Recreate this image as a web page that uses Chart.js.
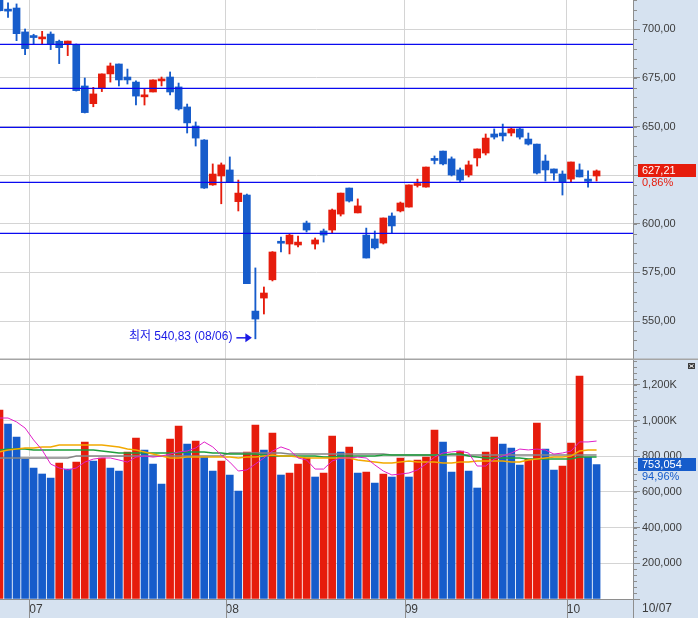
<!DOCTYPE html>
<html lang="ko">
<head>
    <meta charset="UTF-8">
    <title>Price / Volume</title>
    <script src="https://cdn.jsdelivr.net/npm/chart.js"></script>
    <style>
        body { margin: 0; background: #ffffff; }
        .panel { position: absolute; left: 0; }
        #priceChart { top: 0; }
        #volumeChart { top: 360px; }
    </style>
</head>
<body>
    <canvas id="priceChart" class="panel" width="698" height="360"></canvas>
    <canvas id="volumeChart" class="panel" width="698" height="258"></canvas>

    <script>
        // ---- data (daily sessions, oldest first) ----
        const months = ['07', '08', '09', '10'];
        const monthStart = [4, 27, 48, 67];     // index of the first session of each month
        const lastDate = '10/07';
        const lowDate = '08/06';

        const open = [717.0, 709.8, 711.0, 698.7, 696.0, 695.1, 697.6, 693.9, 692.6, 692.3,
            670.9, 661.8, 669.7, 677.1, 682.2, 675.5, 672.9, 665.3, 667.8, 673.5,
            675.5, 670.4, 660.1, 650.3, 643.1, 620.0, 624.6, 627.7, 611.4, 614.8,
            555.1, 561.8, 571.2, 590.3, 589.6, 589.1, 600.4, 589.6, 596.3, 596.8,
            605.0, 618.4, 605.6, 594.2, 592.2, 590.1, 604.0, 606.6, 608.6, 619.7,
            618.9, 632.9, 637.4, 633.4, 627.7, 625.1, 633.9, 636.4, 646.2, 646.7,
            646.7, 648.8, 643.6, 641.0, 632.3, 628.2, 625.6, 623.0, 627.7, 623.0,
            624.6];
        const high = [718.5, 713.7, 713.1, 700.2, 697.5, 699.0, 698.7, 694.5, 694.0, 692.5,
            675.0, 670.2, 677.1, 682.7, 682.2, 679.6, 673.5, 669.3, 674.0, 675.5,
            678.1, 672.4, 661.6, 652.4, 643.3, 630.8, 631.3, 634.4, 622.5, 615.3,
            577.3, 567.5, 585.7, 593.2, 594.8, 593.7, 601.4, 592.7, 597.3, 607.6,
            615.8, 618.4, 612.8, 597.8, 596.3, 603.0, 605.6, 611.2, 620.0, 623.0,
            629.2, 634.9, 637.4, 634.4, 628.7, 632.3, 638.5, 646.2, 648.8, 651.3,
            649.3, 649.3, 646.7, 641.0, 635.4, 628.2, 627.2, 631.8, 630.8, 627.2,
            627.7];
        const low = [709.4, 706.2, 694.2, 687.0, 692.6, 692.6, 689.6, 682.4, 686.5, 668.3,
            657.0, 660.2, 668.0, 672.9, 670.9, 671.9, 661.1, 661.1, 667.8, 670.9,
            666.3, 658.5, 646.7, 640.0, 618.2, 619.8, 610.3, 621.5, 606.6, 569.2,
            540.83, 553.6, 570.6, 585.5, 584.5, 588.1, 595.8, 587.0, 590.6, 595.3,
            604.0, 611.2, 605.6, 582.4, 587.0, 589.6, 595.3, 606.1, 608.6, 618.9,
            618.9, 630.8, 630.3, 624.6, 621.5, 624.1, 629.7, 635.4, 643.6, 642.6,
            645.2, 643.6, 640.5, 625.6, 622.0, 622.5, 614.8, 621.5, 624.1, 618.9,
            622.0];
        const close = [709.6, 709.4, 697.8, 690.1, 695.8, 695.9, 692.6, 690.6, 694.0, 668.5,
            657.2, 666.8, 677.1, 681.2, 674.0, 674.0, 665.7, 665.5, 674.0, 674.5,
            667.8, 659.1, 651.9, 644.1, 618.4, 625.6, 630.3, 621.5, 615.8, 569.2,
            551.0, 564.4, 585.5, 590.0, 594.2, 590.6, 596.8, 591.7, 594.2, 607.1,
            615.8, 611.7, 609.2, 582.4, 587.6, 603.0, 598.9, 610.7, 620.0, 620.0,
            629.2, 632.6, 630.8, 625.1, 622.5, 630.3, 638.5, 644.1, 644.6, 645.2,
            648.8, 644.6, 641.0, 626.1, 627.7, 626.1, 621.5, 631.8, 624.1, 621.86,
            627.21];
        const volume = [1058800, 980400, 907500, 784300, 733900, 700300, 677800, 761900, 728300, 767500,
            879500, 773100, 789900, 733900, 717100, 823500, 901900, 834700, 756300, 644200,
            896300, 969100, 868300, 885100, 795500, 717100, 773100, 694600, 605000, 823500,
            974700, 834700, 929900, 694600, 705900, 756300, 789900, 683400, 705900, 913100,
            823500, 851500, 705900, 711500, 649800, 700300, 683400, 789900, 683400, 778700,
            795500, 946700, 879500, 711500, 829100, 717100, 621800, 823500, 907500, 868300,
            845900, 750700, 784300, 986000, 840300, 722700, 745100, 873900, 1249200, 793024,
            753054];
        // volume moving averages as drawn (5 / 20 / 60 / 120 sessions)
        const volMa5 = [1014000, 1014000, 992000, 958000, 891000, 835000, 756000, 734000, 723000, 734000,
            767000, 784000, 790000, 790000, 779000, 767000, 795000, 801000, 795000, 801000,
            812000, 824000, 829000, 846000, 880000, 852000, 807000, 767000, 717000, 723000,
            756000, 790000, 829000, 852000, 835000, 790000, 779000, 728000, 728000, 773000,
            790000, 790000, 795000, 790000, 751000, 717000, 695000, 700000, 706000, 723000,
            756000, 795000, 818000, 824000, 829000, 818000, 745000, 745000, 784000, 801000,
            818000, 840000, 835000, 840000, 835000, 812000, 818000, 829000, 880000, 880000,
            885000];
        const volMa20 = [824000, 835000, 840000, 846000, 846000, 852000, 852000, 863000, 863000, 863000,
            863000, 863000, 863000, 857000, 852000, 840000, 835000, 824000, 812000, 801000,
            790000, 790000, 795000, 795000, 795000, 795000, 795000, 795000, 790000, 795000,
            795000, 801000, 807000, 801000, 801000, 795000, 790000, 790000, 790000, 790000,
            790000, 790000, 779000, 773000, 767000, 762000, 762000, 767000, 773000, 767000,
            767000, 767000, 762000, 762000, 767000, 767000, 773000, 773000, 773000, 773000,
            767000, 767000, 779000, 784000, 790000, 795000, 795000, 801000, 829000, 835000,
            835000];
        const volMa60 = [835000, 840000, 840000, 840000, 835000, 835000, 835000, 835000, 835000, 835000,
            835000, 835000, 829000, 824000, 818000, 818000, 818000, 818000, 818000, 818000,
            818000, 818000, 824000, 824000, 824000, 818000, 818000, 812000, 812000, 812000,
            812000, 807000, 801000, 801000, 801000, 801000, 801000, 801000, 795000, 795000,
            801000, 801000, 801000, 801000, 801000, 807000, 807000, 807000, 807000, 807000,
            807000, 807000, 807000, 812000, 812000, 801000, 795000, 790000, 790000, 790000,
            790000, 790000, 784000, 784000, 784000, 784000, 784000, 784000, 795000, 795000,
            795000];
        const volMa120 = [790000, 790000, 790000, 790000, 790000, 790000, 790000, 790000, 790000, 801000,
            801000, 801000, 801000, 801000, 801000, 801000, 801000, 801000, 801000, 801000,
            801000, 801000, 801000, 801000, 801000, 801000, 801000, 818000, 818000, 818000,
            818000, 818000, 818000, 818000, 812000, 812000, 812000, 812000, 812000, 812000,
            812000, 812000, 812000, 812000, 812000, 812000, 807000, 807000, 807000, 807000,
            807000, 807000, 807000, 807000, 807000, 807000, 807000, 807000, 807000, 807000,
            807000, 807000, 807000, 807000, 807000, 807000, 807000, 807000, 807000, 807000,
            807000];
        const levels = [692.3, 669.7, 649.6, 621.3, 595.1];   // horizontal trend lines
        const priceTicks = [550, 575, 600, 625, 650, 675, 700];
        const volumeTicks = [0, 200000, 400000, 600000, 800000, 1000000, 1200000];

        // ---- look ----
        const RED = '#E61C0C', BLUE = '#165CCB', LEVEL = '#0A0AF0', ANNO = '#1A1AE6';
        const AXIS_BG = '#D6E2F0', GRID = '#D4D4D4', AXIS_LINE = '#8E8E8E', LABEL = '#3C3C3C';
        const X_MIN = 0.06, X_MAX = 74.27;
        const AXIS_W = 65;

        Chart.defaults.font.family = '"Liberation Sans", Arial, sans-serif';
        Chart.defaults.font.size = 11;
        Chart.defaults.color = LABEL;

        const comma = (v, d) => v.toFixed(d).replace('.', ',');
        const fmtVol = v => v >= 1000000 ? (v / 1000).toLocaleString('en-US') + 'K' : v.toLocaleString('en-US');

        const idx = close.map((_, i) => i);
        const candleColor = idx.map(i => close[i] >= open[i] ? RED : BLUE);
        const volColor = idx.map(i => (i === 0 || volume[i] > volume[i - 1]) ? RED : BLUE);

        function xAxis(showLabels) {
            return {
                type: 'linear', min: X_MIN, max: X_MAX, offset: false,
                afterBuildTicks: s => { s.ticks = monthStart.map(v => ({ value: v - 0.5 })); },
                afterFit: s => { s.height = showLabels ? 19 : 0; s.paddingLeft = 0; s.paddingRight = 0; },
                grid: { color: GRID, offset: false, drawTicks: false },
                border: { display: showLabels, color: AXIS_LINE },
                ticks: {
                    display: showLabels, align: 'start', padding: 3, maxRotation: 0, autoSkip: false,
                    font: { size: 12 }, callback: (v, i) => months[i]
                }
            };
        }

        function yAxis(min, max, ticks, fmt, hidden) {
            return {
                position: 'right', min: min, max: max,
                afterBuildTicks: s => { s.ticks = ticks.map(v => ({ value: v })); },
                afterFit: s => { s.width = AXIS_W; s.paddingTop = 0; s.paddingBottom = 0; },
                grid: { color: GRID, tickColor: AXIS_LINE, tickLength: 7 },
                border: { color: AXIS_LINE },
                ticks: { padding: 2, callback: v => hidden.includes(v) ? '' : fmt(v) }
            };
        }

        function minorTicks(ctx, a, scale, step) {
            ctx.strokeStyle = AXIS_LINE;
            ctx.lineWidth = 1;
            ctx.beginPath();
            for (let v = Math.ceil(scale.min / step) * step; v <= scale.max; v += step) {
                const py = Math.round(scale.getPixelForValue(v)) + 0.5;
                ctx.moveTo(a.right, py);
                ctx.lineTo(a.right + 4, py);
            }
            ctx.stroke();
        }

        function valueTag(ctx, a, py, bg, text, sub, subColor) {
            const top = Math.round(py) - 7;
            ctx.fillStyle = bg;
            ctx.fillRect(a.right + 5, top, 58, 13);
            ctx.font = '11px "Liberation Sans", Arial, sans-serif';
            ctx.textAlign = 'left';
            ctx.textBaseline = 'middle';
            ctx.fillStyle = '#ffffff';
            ctx.fillText(text, a.right + 9, top + 7);
            ctx.fillStyle = subColor;
            ctx.fillText(sub, a.right + 9, top + 19);
        }

        const pricePanel = {
            id: 'pricePanel',
            beforeDraw(chart) {
                const { ctx, chartArea: a, width, height } = chart;
                ctx.fillStyle = AXIS_BG;
                ctx.fillRect(a.right, 0, width - a.right, height);
            },
            afterDraw(chart) {
                const { ctx, chartArea: a, width, height, scales: { x, y } } = chart;
                ctx.save();
                minorTicks(ctx, a, y, 5);

                // lowest low marker
                const li = low.indexOf(Math.min(...low));
                const ax = x.getPixelForValue(li);
                const ay = y.getPixelForValue(low[li]) - 1;
                ctx.strokeStyle = ANNO;
                ctx.fillStyle = ANNO;
                ctx.lineWidth = 1.5;
                ctx.beginPath();
                ctx.moveTo(ax - 19, ay);
                ctx.lineTo(ax - 9, ay);
                ctx.stroke();
                ctx.beginPath();
                ctx.moveTo(ax - 3.5, ay);
                ctx.lineTo(ax - 10, ay - 4.5);
                ctx.lineTo(ax - 10, ay + 4.5);
                ctx.closePath();
                ctx.fill();
                ctx.font = '12px "Liberation Sans", "Noto Sans CJK KR", sans-serif';
                ctx.textAlign = 'right';
                ctx.textBaseline = 'middle';
                ctx.fillText('최저 ' + comma(low[li], 2) + ' (' + lowDate + ')', ax - 23, ay - 1);

                // last close tag
                const n = close.length - 1;
                const chg = (close[n] / close[n - 1] - 1) * 100;
                valueTag(ctx, a, y.getPixelForValue(close[n]), RED, comma(close[n], 2),
                    comma(chg, 2) + '%', RED);

                // separator between panels
                ctx.fillStyle = '#A5A5A5';
                ctx.fillRect(0, height - 1.5, width, 1.5);
                ctx.restore();
            }
        };

        const volumePanel = {
            id: 'volumePanel',
            beforeDraw(chart) {
                const { ctx, chartArea: a, width, height } = chart;
                ctx.fillStyle = AXIS_BG;
                ctx.fillRect(a.right, 0, width - a.right, height);
                ctx.fillRect(0, a.bottom, width, height - a.bottom);
            },
            afterDraw(chart) {
                const { ctx, chartArea: a, width, height, scales: { x, y } } = chart;
                ctx.save();
                minorTicks(ctx, a, y, 200000 / 6);

                // month separators in the date strip
                ctx.strokeStyle = AXIS_LINE;
                ctx.lineWidth = 1;
                ctx.beginPath();
                monthStart.forEach(v => {
                    const px = Math.round(x.getPixelForValue(v - 0.5)) + 0.5;
                    ctx.moveTo(px, a.bottom);
                    ctx.lineTo(px, height);
                });
                ctx.moveTo(Math.round(a.right) + 0.5, a.bottom);
                ctx.lineTo(Math.round(a.right) + 0.5, height);
                ctx.stroke();

                ctx.font = '12px "Liberation Sans", Arial, sans-serif';
                ctx.fillStyle = LABEL;
                ctx.textAlign = 'left';
                ctx.textBaseline = 'middle';
                ctx.fillText(lastDate, a.right + 9, a.bottom + 10);

                // last volume tag
                const n = volume.length - 1;
                const ratio = volume[n] / volume[n - 1] * 100;
                valueTag(ctx, a, y.getPixelForValue(volume[n]), BLUE, fmtVol(volume[n]),
                    comma(ratio, 2) + '%', BLUE);

                // small panel button
                ctx.fillStyle = '#3E3E3E';
                ctx.fillRect(width - 10, 3, 7, 6);
                ctx.strokeStyle = '#ffffff';
                ctx.beginPath();
                ctx.moveTo(width - 8.5, 4.5); ctx.lineTo(width - 4.5, 7.5);
                ctx.moveTo(width - 4.5, 4.5); ctx.lineTo(width - 8.5, 7.5);
                ctx.stroke();
                ctx.restore();
            }
        };

        const baseOptions = {
            responsive: false,
            animation: false,
            devicePixelRatio: 1,
            layout: { padding: 0 },
            plugins: { legend: { display: false }, tooltip: { enabled: false } }
        };

        // Price panel
        new Chart(document.getElementById('priceChart'), {
            type: 'bar',
            data: {
                datasets: [
                    ...levels.map(v => ({
                        type: 'line', data: [{ x: X_MIN, y: v }, { x: X_MAX, y: v }],
                        borderColor: LEVEL, borderWidth: 1.2, pointRadius: 0, order: 0
                    })),
                    {
                        data: idx.map(i => ({ x: i, y: [open[i], close[i]] })),
                        backgroundColor: candleColor, barThickness: 7, minBarLength: 2,
                        grouped: false, order: 1
                    },
                    {
                        data: idx.map(i => ({ x: i, y: [low[i], high[i]] })),
                        backgroundColor: candleColor, barThickness: 1.2,
                        grouped: false, order: 2
                    }
                ]
            },
            options: {
                ...baseOptions,
                scales: {
                    x: xAxis(false),
                    y: yAxis(529.94, 715.12, priceTicks, v => comma(v, 2), [625])
                }
            },
            plugins: [pricePanel]
        });

        // Volume panel
        const maLine = (values, color, width, order) => ({
            type: 'line', data: idx.map(i => ({ x: i, y: values[i] })),
            borderColor: color, borderWidth: width, pointRadius: 0, tension: 0, order: order
        });

        new Chart(document.getElementById('volumeChart'), {
            type: 'bar',
            data: {
                datasets: [
                    maLine(volMa5, '#E020C8', 1, 0),
                    maLine(volMa20, '#F2A900', 1.5, 1),
                    maLine(volMa60, '#1E9E3C', 1.5, 2),
                    maLine(volMa120, '#858585', 1.5, 3),
                    {
                        data: idx.map(i => ({ x: i, y: volume[i] })),
                        backgroundColor: volColor, barThickness: 7, order: 5
                    }
                ]
            },
            options: {
                ...baseOptions,
                scales: {
                    x: xAxis(true),
                    y: yAxis(0, 1339000, volumeTicks, fmtVol, [0])
                }
            },
            plugins: [volumePanel]
        });
    </script>
</body>
</html>
